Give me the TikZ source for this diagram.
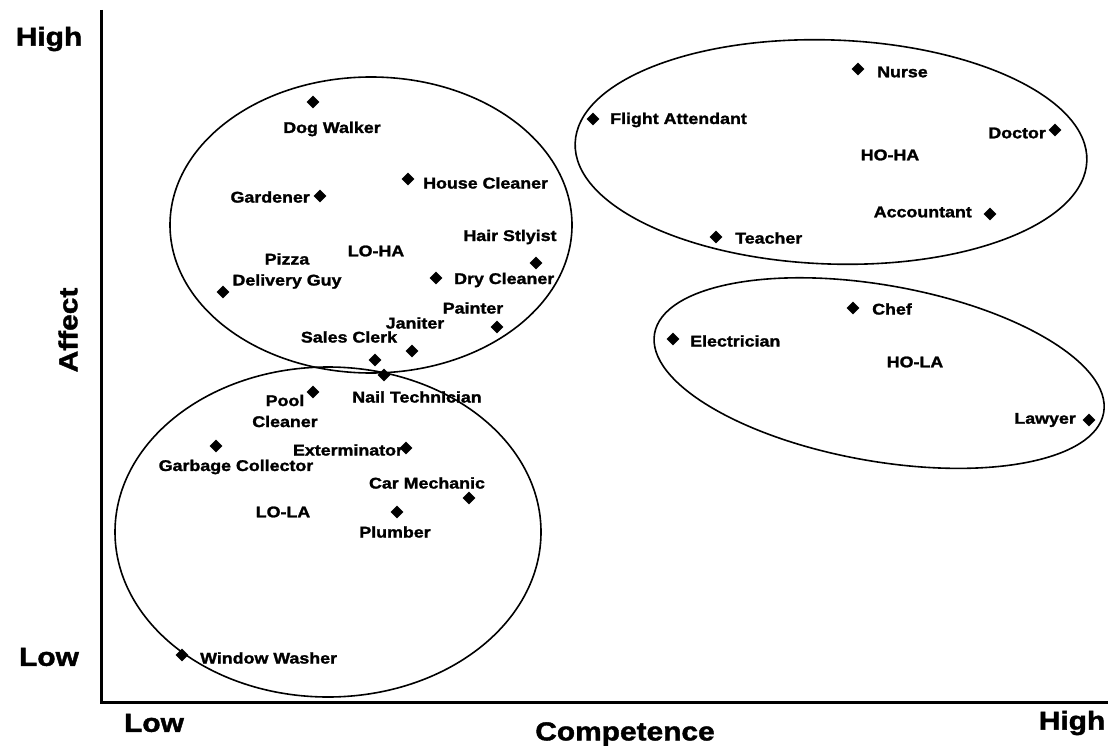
\documentclass[tikz,border=0pt]{standalone}
\usepackage{fontspec}
\setmainfont{Liberation Sans}[FakeStretch=1.15, BoldFeatures={FakeBold=1.6}]
\usetikzlibrary{shapes.geometric}

\begin{document}
\begin{tikzpicture}[x=1pt,y=-1pt,
  pt/.style={diamond, fill=black, inner sep=0pt, minimum size=13pt},
  lab/.style={font=\fontsize{15.5}{21}\selectfont\bfseries, inner sep=0pt, align=center},
  axlab/.style={font=\fontsize{26}{28}\selectfont\bfseries, inner sep=0pt},
  cluster/.style={draw=black, line width=1.6pt},
  axis/.style={line width=3pt}]
\useasboundingbox (0,0) rectangle (1108,749);

% axes
\coordinate (ytop) at (101,10);
\coordinate (origin) at (101,702);
\coordinate (xend) at (1108,702);
\draw[axis] (ytop) -- (origin) -- (xend);

\node[axlab] (yhigh) at (49,39) {High};
\node[axlab] (ylow) at (49,657) {Low};
\node[axlab, rotate=90] (ytitle) at (68,330) {Affect};
\node[axlab] (xlow) at (154,723) {Low};
\node[axlab] (xtitle) at (625,734) {Competence};
\node[axlab] (xhigh) at (1072,723) {High};

% cluster outlines
\coordinate (cLOHA) at (371,225);
\coordinate (cLOLA) at (328,532);
\coordinate (cHOHA) at (831,152);
\coordinate (cHOLA) at (879,373);
\draw[cluster] (cLOHA) ellipse [x radius=201, y radius=148];
\draw[cluster] (cLOLA) ellipse [x radius=213, y radius=165];
\draw[cluster, rotate around={-2:(cHOHA)}] (cHOHA) ellipse [x radius=256, y radius=112];
\draw[cluster, rotate around={-10:(cHOLA)}] (cHOLA) ellipse [x radius=228, y radius=88];

% low competence, high affect
\node[lab] (loha) at (376,251) {LO-HA};
\node[pt] (dogwalker) at (313,102) {};
\node[lab] (dogwalkerT) at (332,129) {Dog Walker};
\node[pt] (housecleaner) at (408,179) {};
\node[lab, anchor=west] (housecleanerT) at (423,183) {House Cleaner};
\node[pt] (gardener) at (320,196) {};
\node[lab, anchor=east] (gardenerT) at (310,197) {Gardener};
\node[pt] (hair) at (536,263) {};
\node[lab] (hairT) at (510,237) {Hair Stlyist};
\node[pt] (pizza) at (223,292) {};
\node[lab] (pizzaT) at (287,271) {Pizza\\Delivery Guy};
\node[pt] (drycleaner) at (436,278) {};
\node[lab, anchor=west] (drycleanerT) at (454,280) {Dry Cleaner};
\node[pt] (painter) at (497,327) {};
\node[lab] (painterT) at (473,308) {Painter};
\node[pt] (janitor) at (412,351) {};
\node[lab] (janitorT) at (415,323) {Janiter};
\node[pt] (sales) at (375,360) {};
\node[lab] (salesT) at (349,337) {Sales Clerk};

% low competence, low affect
\node[lab] (lola) at (283,512) {LO-LA};
\node[pt] (nail) at (384,375) {};
\node[lab] (nailT) at (417,397) {Nail Technician};
\node[pt] (pool) at (313,392) {};
\node[lab] (poolT) at (285,411) {Pool\\Cleaner};
\node[pt] (garbage) at (216,446) {};
\node[lab] (garbageT) at (236,467) {Garbage Collector};
\node[lab] (extermT) at (348,450) {Exterminator};
\node[pt] (exterm) at (406,448) {};
\node[pt] (mechanic) at (469,498) {};
\node[lab] (mechanicT) at (427,483) {Car Mechanic};
\node[pt] (plumber) at (397,512) {};
\node[lab] (plumberT) at (395,532) {Plumber};
\node[pt] (window) at (182,655) {};
\node[lab, anchor=west] (windowT) at (200,658) {Window Washer};

% high competence, high affect
\node[lab] (hoha) at (890,155) {HO-HA};
\node[pt] (nurse) at (858,69) {};
\node[lab, anchor=west] (nurseT) at (877,72) {Nurse};
\node[pt] (flight) at (593,119) {};
\node[lab, anchor=west] (flightT) at (610,120) {Flight Attendant};
\node[pt] (doctor) at (1055,130) {};
\node[lab, anchor=east] (doctorT) at (1046,133) {Doctor};
\node[pt] (accountant) at (990,214) {};
\node[lab, anchor=east] (accountantT) at (972,212) {Accountant};
\node[pt] (teacher) at (716,237) {};
\node[lab, anchor=west] (teacherT) at (735,238) {Teacher};

% high competence, low affect
\node[lab] (hola) at (915,362) {HO-LA};
\node[pt] (chef) at (853,308) {};
\node[lab, anchor=west] (chefT) at (872,309) {Chef};
\node[pt] (electrician) at (673,339) {};
\node[lab, anchor=west] (electricianT) at (690,341) {Electrician};
\node[pt] (lawyer) at (1089,420) {};
\node[lab, anchor=east] (lawyerT) at (1076,420) {Lawyer};
\end{tikzpicture}
\end{document}
